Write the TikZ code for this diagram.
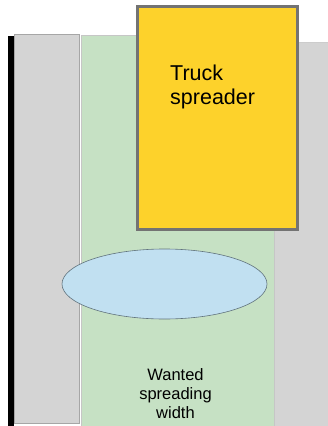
\documentclass[tikz,border=0pt]{standalone}
\usepackage{fontspec}
\setmainfont{Liberation Sans}
\usetikzlibrary{positioning}

\definecolor{verge}{HTML}{D4D4D4}
\definecolor{lanegreen}{HTML}{C6E1C4}
\definecolor{truckyellow}{HTML}{FDD22B}
\definecolor{spraybl}{HTML}{C1E0F1}

\tikzset{
  roadside/.style={fill=verge, draw=gray!70, line width=0.8pt},
  spreadlane/.style={fill=lanegreen, draw=gray!45, line width=0.8pt},
  truckbox/.style={fill=truckyellow, draw=gray!90!black, line width=3pt},
  spray/.style={fill=spraybl, draw=gray!60!cyan!60!black, line width=0.6pt},
  lbl/.style={inner sep=0pt, align=left}
}

\begin{document}
\begin{tikzpicture}[x=1pt, y=-1pt]
  \useasboundingbox[fill=white] (0,0) rectangle (328,426);

  % roadsides
  \fill[black] (8,36) rectangle (14,426);
  \draw[roadside] (14,34) rectangle (79,423);
  \fill[verge] (274,42) rectangle (330,428);
  \draw[gray!40, line width=0.8pt] (274,42) -- (328,42);

  % wanted lane
  \draw[spreadlane] (81,35) rectangle (274,428);

  % truck
  \draw[truckbox] (137,6) rectangle (297,229);
  \node[lbl, anchor=north west, font=\fontsize{21.5}{24}\selectfont] (truck) at (170,65) {Truck\\spreader};

  % spread pattern
  \draw[spray] (164.5,284) ellipse [x radius=102.5, y radius=35];

  \node[lbl, align=center, anchor=north, font=\fontsize{16.5}{19}\selectfont] (wanted) at (175.5,368) {Wanted\\spreading\\width};
\end{tikzpicture}
\end{document}
